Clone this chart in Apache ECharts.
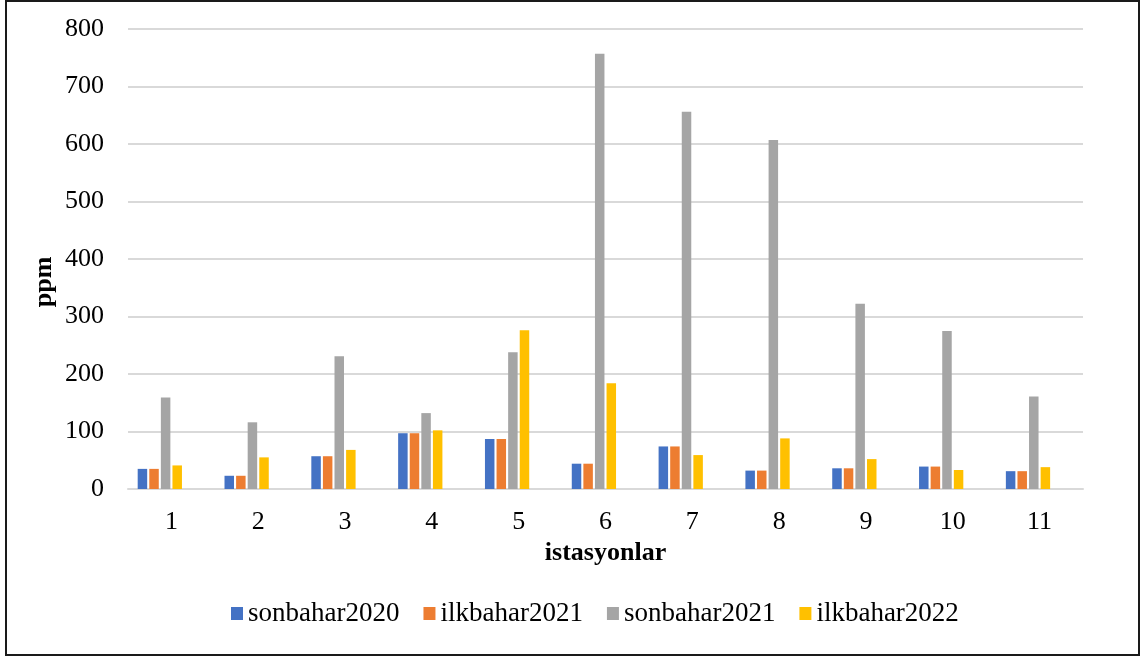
<!DOCTYPE html>
<html>
<head>
<meta charset="utf-8">
<script src="https://cdn.jsdelivr.net/npm/echarts@6/dist/echarts.min.js"></script>
<style>
  html, body { margin: 0; padding: 0; background: #fff; }
  #chart { width: 1147px; height: 659px; }
</style>
</head>
<body>
<div id="chart"></div>
<script>
// Stations along the x axis
const stations = ['1', '2', '3', '4', '5', '6', '7', '8', '9', '10', '11'];

// Measured concentrations (ppm) per sampling season
const sonbahar2020 = [35, 23, 57, 97, 87, 44, 74, 32, 36, 39, 31];
const ilkbahar2021 = [35, 23, 57, 97, 87, 44, 74, 32, 36, 39, 31];
const sonbahar2021 = [159, 116, 231, 132, 238, 757, 656, 607, 322, 275, 161];
const ilkbahar2022 = [41, 55, 68, 102, 276, 184, 59, 88, 52, 33, 38];

const seriesNames = ['sonbahar2020', 'ilkbahar2021', 'sonbahar2021', 'ilkbahar2022'];
const seriesData = [sonbahar2020, ilkbahar2021, sonbahar2021, ilkbahar2022];
const seriesColors = ['#4472C4', '#ED7D31', '#A5A5A5', '#FFC000'];

const FONT = '"Liberation Serif", "Times New Roman", serif';

const series = seriesNames.map((name, i) => ({
  name: name,
  type: 'bar',
  data: seriesData[i],
  barWidth: 9.5,
  barGap: '22%',
  itemStyle: { color: seriesColors[i] }
}));
// two unused slots in each cluster (no values), which keep the bars left of the tick centre
for (let k = 0; k < 2; k++) {
  series.push({
    name: 'reserved' + k,
    type: 'bar',
    data: stations.map(() => '-'),
    barWidth: 9.5,
    barGap: '22%'
  });
}

const chart = echarts.init(document.getElementById('chart'), null, { renderer: 'canvas' });
chart.setOption({
  animation: false,
  backgroundColor: '#fff',
  textStyle: { fontFamily: FONT, color: '#000' },
  grid: { left: 128, right: 64, top: 29, bottom: 170, containLabel: false },
  legend: {
    data: seriesNames,
    left: 226,
    top: 595,
    itemWidth: 12,
    itemHeight: 13,
    itemGap: 24,
    icon: 'rect',
    textStyle: { fontFamily: FONT, fontSize: 27, color: '#000' }
  },
  xAxis: {
    type: 'category',
    data: stations,
    name: 'istasyonlar',
    nameLocation: 'middle',
    nameGap: 48,
    nameTextStyle: { fontFamily: FONT, fontSize: 26, fontWeight: 'bold', color: '#000' },
    axisLine: { lineStyle: { color: '#d9d9d9', width: 2 } },
    axisTick: { show: false },
    axisLabel: { fontFamily: FONT, fontSize: 26, color: '#000', margin: 20 }
  },
  yAxis: {
    type: 'value',
    min: 0,
    max: 800,
    interval: 100,
    axisLine: { show: false },
    axisTick: { show: false },
    axisLabel: { fontFamily: FONT, fontSize: 26, color: '#000', margin: 24 },
    splitLine: { lineStyle: { color: '#d9d9d9', width: 2 } }
  },
  series: series,
  graphic: [{
    // y axis title, rotated and set a little below the plot's middle
    type: 'text',
    x: 44,
    y: 282,
    rotation: Math.PI / 2,
    style: {
      text: 'ppm',
      font: 'bold 26px ' + FONT,
      fill: '#000',
      align: 'center',
      verticalAlign: 'middle'
    },
    silent: true
  }, {
    // outer frame
    type: 'rect',
    shape: { x: 6, y: 1, width: 1133, height: 654 },
    style: { fill: 'none', stroke: '#1a1a1a', lineWidth: 2 },
    silent: true,
    z: 100
  }]
});
</script>
</body>
</html>
